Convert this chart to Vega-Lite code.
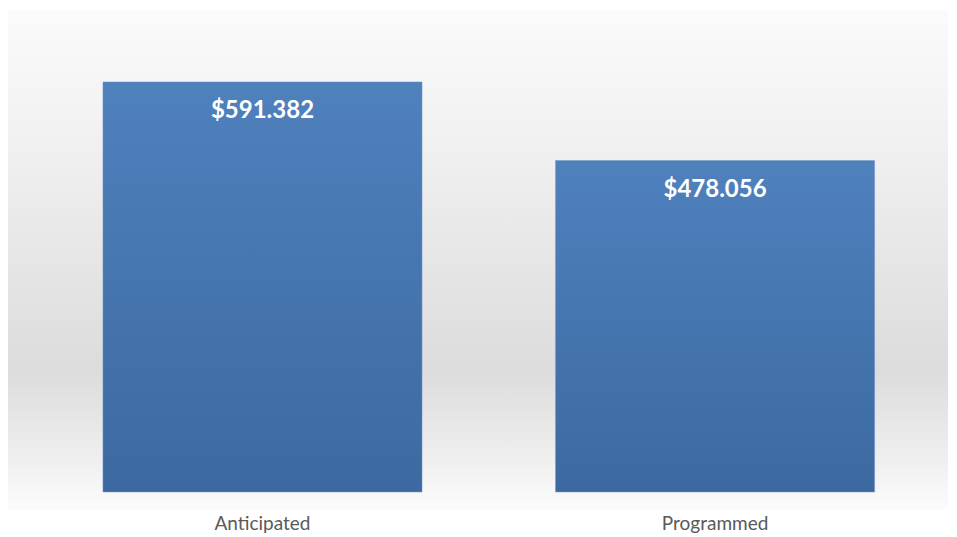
{
  "$schema": "https://vega.github.io/schema/vega-lite/v6.json",
  "width": 940,
  "height": 500,
  "autosize": "none",
  "padding": {"left": 8, "right": 9, "top": 10, "bottom": 27},
  "background": "#ffffff",
  "config": {
    "view": {
      "stroke": null,
      "fill": {
        "gradient": "linear", "x1": 0, "y1": 0, "x2": 0, "y2": 1,
        "stops": [
          {"offset": 0, "color": "#fbfbfb"},
          {"offset": 0.3, "color": "#efefef"},
          {"offset": 0.72, "color": "#dcdcdc"},
          {"offset": 0.9, "color": "#efefef"},
          {"offset": 1, "color": "#fcfcfc"}
        ]
      }
    },
    "font": "Lato"
  },
  "data": {
    "values": [
      {"category": "Anticipated", "amount": 591.382, "label": "$591.382"},
      {"category": "Programmed", "amount": 478.056, "label": "$478.056"}
    ]
  },
  "encoding": {
    "x": {
      "field": "category", "type": "nominal", "sort": null,
      "scale": {"paddingInner": 0.295, "paddingOuter": 0.186, "align": 0.564},
      "axis": {
        "title": null, "labelAngle": 0, "domain": false, "ticks": false,
        "labelFontSize": 19, "labelColor": "#595959", "labelPadding": 4,
        "labelFont": "Lato"
      }
    },
    "y": {
      "field": "amount", "type": "quantitative",
      "scale": {"domain": [-25.96, 695.2], "nice": false, "zero": false},
      "axis": null
    }
  },
  "layer": [
    {
      "mark": {
        "type": "bar",
        "color": {
          "gradient": "linear", "x1": 0, "y1": 0, "x2": 0, "y2": 1,
          "stops": [
            {"offset": 0, "color": "#4f81bd"},
            {"offset": 1, "color": "#3c69a0"}
          ]
        },
        "stroke": "#6f96c8",
        "strokeWidth": 0.5
      },
      "encoding": {"y2": {"datum": 0}}
    },
    {
      "mark": {
        "type": "text", "baseline": "middle", "align": "center",
        "dy": 29, "color": "#ffffff", "fontSize": 24, "fontWeight": "bold",
        "font": "Lato"
      },
      "encoding": {"text": {"field": "label"}}
    }
  ]
}
